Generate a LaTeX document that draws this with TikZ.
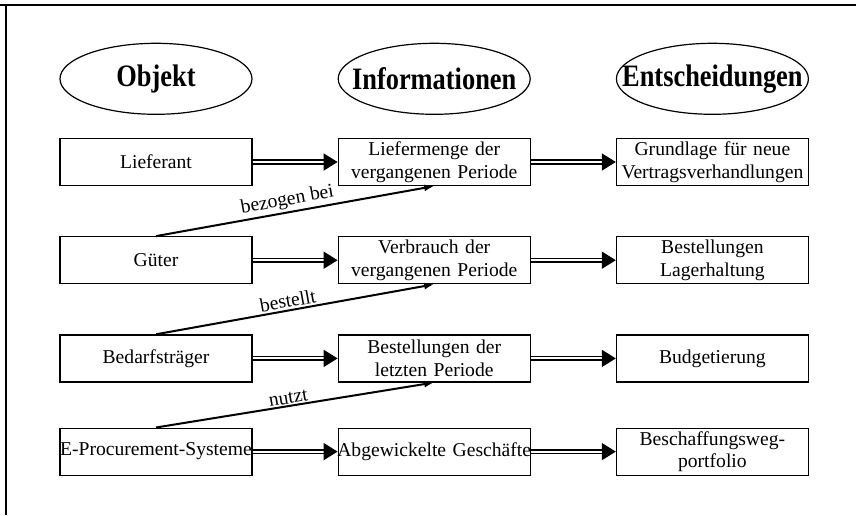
\documentclass[tikz,border=0pt]{standalone}
\usepackage{fontspec}
\setmainfont{Liberation Serif}
\usetikzlibrary{arrows.meta, shapes.geometric, positioning}

\newcommand{\hdrtxt}[1]{\makebox[0pt]{\scalebox{1}[1.18]{\fontsize{13.2}{16}\selectfont\bfseries #1}}}

\begin{document}
\begin{tikzpicture}[
    x=0.5pt, y=-0.5pt,
    font=\fontsize{9.8}{11.4}\selectfont,
    node distance=25pt and 42.5pt,
    box/.style={draw, line width=0.6pt, text width=94pt, minimum height=23.5pt,
                inner xsep=1pt, inner ysep=1pt, align=center},
    head/.style={draw, ellipse, line width=0.6pt, minimum width=96pt, minimum height=35.5pt,
                 inner sep=0pt},
    dbl/.style={double, double distance=1pt, line width=0.85pt,
                -{Triangle[length=7pt, width=8.5pt]}},
    rel/.style={line width=1pt, -{Latex[length=5pt, width=3.5pt]}}
]
\useasboundingbox (0,0) rectangle (856,515);
% frame
\draw[line width=0.6pt] (0,5) -- (856,5);
\draw[line width=0.6pt] (6,5) -- (6,515);
% first row
\node[box] (lief) at (156,162) {Lieferant};
\node[box, right=of lief]  (liefm)  {Liefermenge der\\vergangenen Periode};
\node[box, right=of liefm] (grundl) {Grundlage für neue\\Vertragsverhandlungen};
% column heads
\node[head, above=11.5pt of lief]   (obj)  {\hdrtxt{Objekt}};
\node[head, above=11.5pt of liefm]  (info) {\hdrtxt{Informationen}};
\node[head, above=11.5pt of grundl] (ents) {\hdrtxt{Entscheidungen}};
% second row
\node[box, below=of lief]   (gueter)  {Güter};
\node[box, right=of gueter] (verbr)   {Verbrauch der\\vergangenen Periode};
\node[box, right=of verbr]  (bestlag) {Bestellungen\\Lagerhaltung};
% third row
\node[box, below=of gueter] (bedarf) {Bedarfsträger};
\node[box, right=of bedarf] (bestl)  {Bestellungen der\\letzten Periode};
\node[box, right=of bestl]  (budget) {Budgetierung};
% fourth row
\node[box, below=22.5pt of bedarf] (eproc) {\makebox[94pt]{E-Procurement-Systeme}};
\node[box, right=of eproc] (abgew) {\makebox[94pt]{Abgewickelte Geschäfte}};
\node[box, right=of abgew] (portf) {Beschaffungsweg-\\portfolio};
% double arrows along the rows
\foreach \a/\b in {lief/liefm, liefm/grundl, gueter/verbr, verbr/bestlag,
                   bedarf/bestl, bestl/budget, eproc/abgew, abgew/portf}
   \draw[dbl] (\a) -- (\b);
% links between the rows
\draw[rel] (gueter.north) -- node[pos=0.48, above, sloped, inner sep=1pt] {bezogen bei} (liefm.south);
\draw[rel] (bedarf.north) -- node[pos=0.48, above, sloped, inner sep=1pt] {bestellt} (verbr.south);
\draw[rel] (eproc.north)  -- node[pos=0.48, above, sloped, inner sep=0.5pt] {nutzt} (bestl.south);
\end{tikzpicture}
\end{document}
